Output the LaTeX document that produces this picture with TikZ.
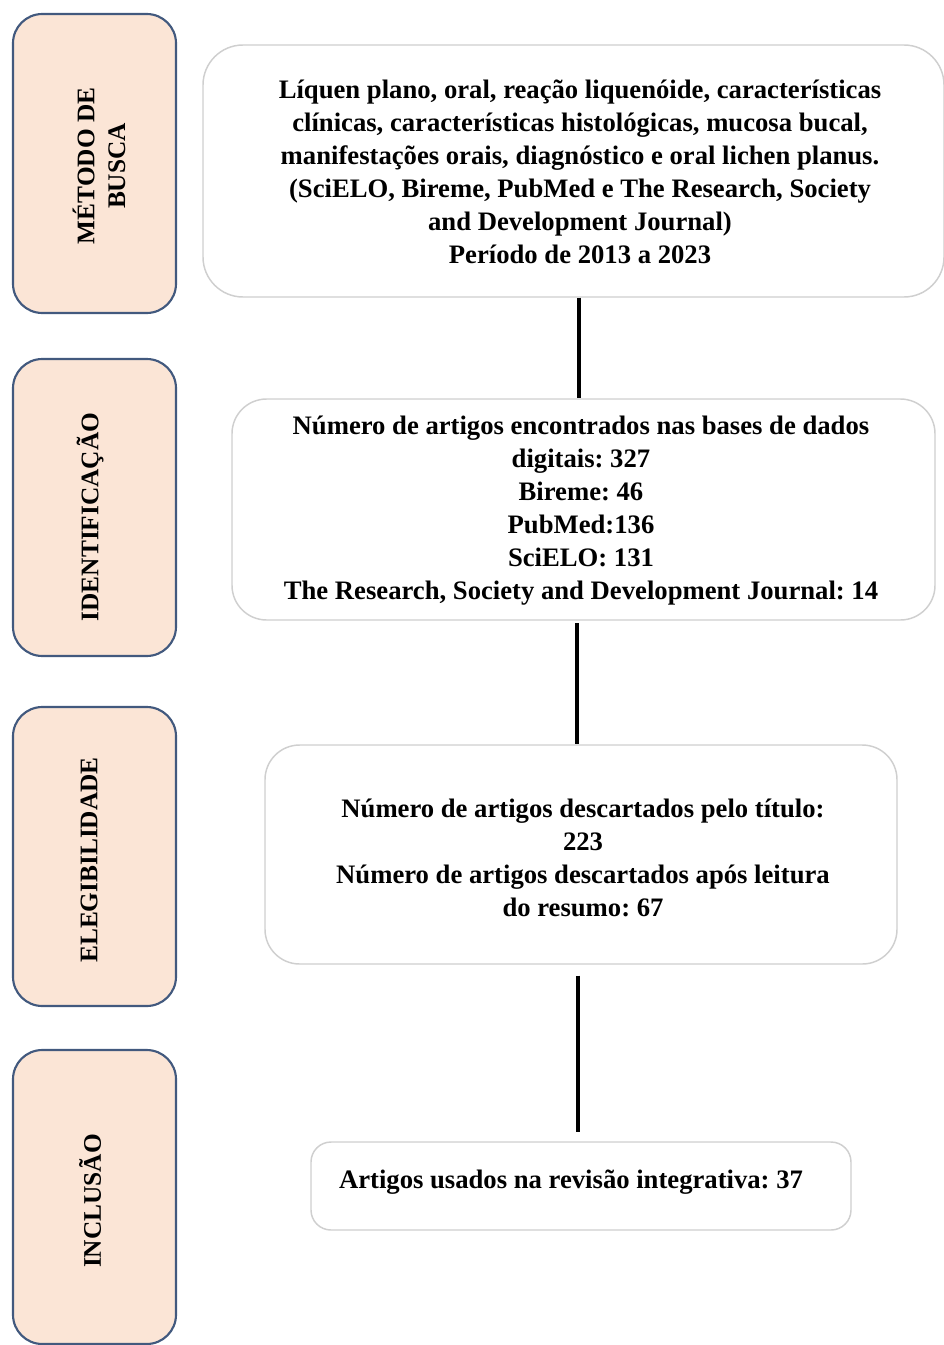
\documentclass[tikz,border=0pt]{standalone}
\usepackage{fontspec}
\setmainfont{Liberation Serif}
\definecolor{peach}{HTML}{FBE5D6}
\definecolor{slate}{HTML}{42597E}
\definecolor{lgray}{HTML}{CFCFCF}
\begin{document}
\frenchspacing
\begin{tikzpicture}[x=0.75pt,y=-0.75pt,
  stagebox/.style={draw=slate,line width=1.6pt,fill=peach,rounded corners=22pt,
    rectangle,inner sep=0pt},
  infobox/.style={draw=lgray,line width=1.1pt,fill=white,rectangle,inner sep=0pt},
  stagetxt/.style={rotate=90,align=center,inner sep=0pt,
    font=\fontsize{19}{23}\selectfont\bfseries\frenchspacing},
  infotxt/.style={align=center,inner sep=0pt,
    font=\fontsize{20}{24.75}\selectfont\bfseries\frenchspacing},
  link/.style={line width=2.3pt,black}]
\useasboundingbox (0,0) rectangle (943,1345);
% left stage boxes
\node[stagebox,minimum width=163*0.75pt,minimum height=299*0.75pt] (s1) at (94.5,163.5) {};
\node[stagebox,minimum width=163*0.75pt,minimum height=297*0.75pt] (s2) at (94.5,507.5) {};
\node[stagebox,minimum width=163*0.75pt,minimum height=299*0.75pt] (s3) at (94.5,856.5) {};
\node[stagebox,minimum width=163*0.75pt,minimum height=294*0.75pt] (s4) at (94.5,1197) {};
\node[stagetxt] (t1) at (99,166) {MÉTODO DE\\BUSCA};
\node[stagetxt] (t2) at (90,517) {IDENTIFICAÇÃO};
\node[stagetxt] (t3) at (89,860) {ELEGIBILIDADE};
\node[stagetxt] (t4) at (90,1201) {INCLUSÃO};
% right info boxes
\node[infobox,rounded corners=30pt,minimum width=741*0.75pt,minimum height=252*0.75pt] (a) at (573.5,171) {};
\node[infobox,rounded corners=26pt,minimum width=703*0.75pt,minimum height=221*0.75pt] (b) at (583.5,509.5) {};
\node[infobox,rounded corners=26pt,minimum width=632*0.75pt,minimum height=219*0.75pt] (c) at (581,854.5) {};
\node[infobox,rounded corners=15pt,minimum width=540*0.75pt,minimum height=88*0.75pt] (d) at (581,1186) {};
\node[infotxt] (ta) at (580,172) {Líquen plano, oral, reação liquenóide, características\\
clínicas, características histológicas, mucosa bucal,\\
manifestações orais, diagnóstico e oral lichen planus.\\
(SciELO, Bireme, PubMed e The Research, Society\\
and Development Journal)\\
Período de 2013 a 2023};
\node[infotxt] (tb) at (581,511) {Número de artigos encontrados nas bases de dados\\
digitais: 327\\
Bireme: 46\\
PubMed:136\\
SciELO: 131\\
The Research, Society and Development Journal: 14};
\node[infotxt] (tc) at (583,858) {Número de artigos descartados pelo título:\\
223\\
Número de artigos descartados após leitura\\
do resumo: 67};
\node[infotxt] (td) at (571,1182) {Artigos usados na revisão integrativa: 37};
% connectors
\coordinate (x1) at (579,0);
\coordinate (x2) at (577,0);
\coordinate (x3) at (578,0);
\draw[link] (x1 |- a.south) -- (x1 |- b.north);
\draw[link,shorten <=2pt] (x2 |- b.south) -- (x2 |- c.north);
\draw[link,shorten <=8.25pt,shorten >=6.75pt] (x3 |- c.south) -- (x3 |- d.north);
\end{tikzpicture}
\end{document}
